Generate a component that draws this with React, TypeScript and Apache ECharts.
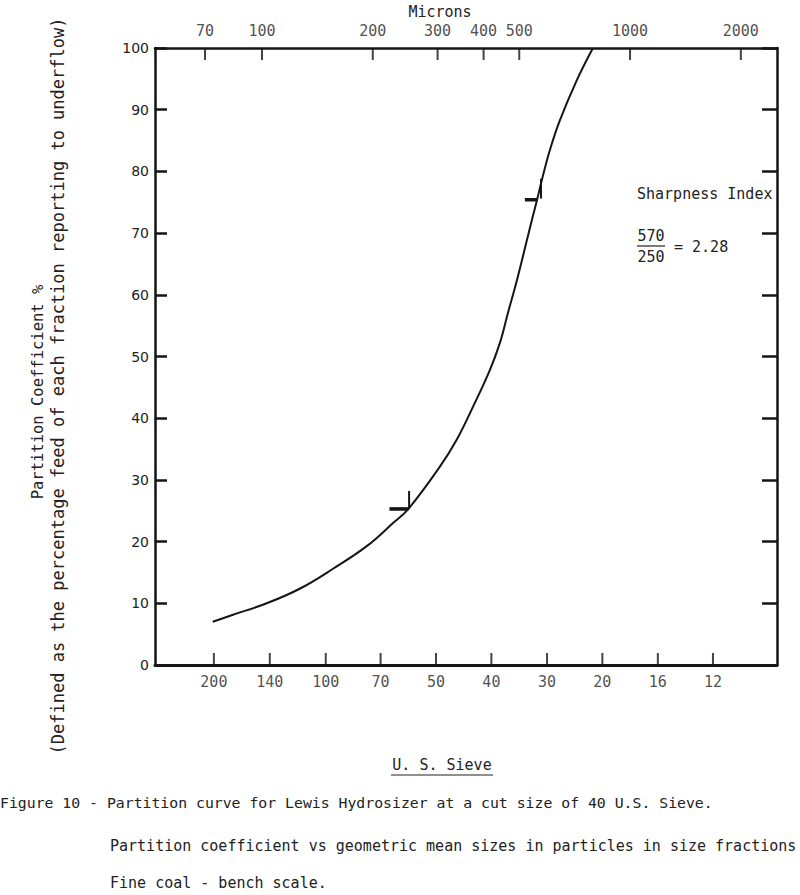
import React, { useEffect, useRef } from "react";
import * as echarts from "echarts";

// Partition curve (microns vs partition coefficient %)
const curveMicrons = [73.5, 83, 103, 127, 156, 193, 227, 250, 304, 338, 374, 416, 443, 466, 493, 541, 559, 576, 606, 645, 717, 793];
const curvePartition = [7.0, 8.1, 10.0, 12.4, 15.6, 19.3, 23.0, 25.3, 32.1, 36.5, 41.8, 47.8, 52.2, 57.1, 62.4, 72.1, 75.4, 78.6, 83.5, 88.3, 94.8, 100];

// Top axis (microns)
const micronTicks = [70, 100, 200, 300, 400, 500, 1000, 2000];
// Bottom axis (U.S. sieve) and equivalent opening in microns
const sieveLabels = ["200", "140", "100", "70", "50", "40", "30", "20", "16", "12"];
const sieveMicrons = [74, 105, 149, 210, 297, 420, 595, 841, 1190, 1680];

// d25 / d75 markers
const d25Dash = [[222, 25.3], [250, 25.3]];
const d25Tick = [[251, 25.3], [251, 28.2]];
const d75Dash = [[518, 75.4], [560, 75.4]];
const d75Tick = [[573, 75.6], [573, 78.8]];

const yTicks = [0, 10, 20, 30, 40, 50, 60, 70, 80, 90, 100];

const INK = "#151515";
const TXT = "#222";
const MONO = "'DejaVu Sans Mono', monospace";

export default function App() {
  const ref = useRef<HTMLDivElement>(null);
  useEffect(() => {
    document.body.style.margin = "0";
    const chart = echarts.init(ref.current!, null, { renderer: "svg" });
    const xCommon = {
      type: "log" as const,
      logBase: 10,
      min: 51.2,
      max: 2508,
      axisLabel: { show: false },
      axisTick: { show: false },
      splitLine: { show: false },
    };
    const t = (text: string, x: number, y: number, align = "left", size = 15, rotation = 0) => ({
      type: "text",
      x,
      y,
      rotation,
      style: { text, font: `${size}px ${MONO}`, fill: TXT, textAlign: align, textVerticalAlign: "middle" },
    });
    const option: any = {
      animation: false,
      backgroundColor: "#ffffff",
      grid: { left: 155, right: 23, top: 48, bottom: 230, containLabel: false },
      xAxis: [
        { ...xCommon, position: "bottom", axisLine: { show: true, onZero: false, lineStyle: { color: INK, width: 3 } } },
        { ...xCommon, position: "top", axisLine: { show: true, onZero: false, lineStyle: { color: INK, width: 2.5 } } },
      ],
      yAxis: [
        {
          type: "value",
          min: 0,
          max: 100,
          interval: 10,
          position: "left",
          axisLine: { show: true, lineStyle: { color: INK, width: 2.5 } },
          axisTick: { show: true, inside: true, length: 12, lineStyle: { color: INK, width: 2.5 } },
          axisLabel: { show: true, margin: 6, color: TXT, fontSize: 14, fontFamily: "'DejaVu Sans', sans-serif", customValues: yTicks },
          splitLine: { show: false },
        },
        {
          type: "value",
          min: 0,
          max: 100,
          interval: 10,
          position: "right",
          axisLine: { show: true, lineStyle: { color: INK, width: 2.5 } },
          axisTick: { show: true, inside: true, length: 15, lineStyle: { color: INK, width: 2.5 } },
          axisLabel: { show: false },
          splitLine: { show: false },
        },
      ],
      series: [
        {
          type: "line",
          xAxisIndex: 0,
          yAxisIndex: 0,
          data: curveMicrons.map((m, i) => [m, curvePartition[i]]),
          smooth: 0.4,
          showSymbol: false,
          lineStyle: { color: INK, width: 2 },
          clip: false,
        },
        ...[d25Dash, d75Dash].map((d) => ({
          type: "line",
          xAxisIndex: 0,
          yAxisIndex: 0,
          data: d,
          showSymbol: false,
          lineStyle: { color: INK, width: 3.5 },
        })),
        ...[d25Tick, d75Tick].map((d) => ({
          type: "line",
          xAxisIndex: 0,
          yAxisIndex: 0,
          data: d,
          showSymbol: false,
          lineStyle: { color: INK, width: 2 },
        })),
        {
          type: "scatter",
          xAxisIndex: 0,
          yAxisIndex: 0,
          clip: false,
          symbol: "rect",
          symbolSize: [2, 12],
          symbolOffset: [0, -6],
          itemStyle: { color: INK },
          data: sieveMicrons.map((m, i) => ({ value: [m, 0], name: sieveLabels[i] })),
          label: {
            show: true,
            position: "bottom",
            distance: 9,
            formatter: "{b}",
            color: TXT,
            fontSize: 15,
            fontFamily: MONO,
          },
        },
        {
          type: "scatter",
          xAxisIndex: 1,
          yAxisIndex: 0,
          clip: false,
          symbol: "rect",
          symbolSize: [2, 12],
          symbolOffset: [0, 6],
          itemStyle: { color: INK },
          data: micronTicks.map((m) => ({ value: [m, 100], name: String(m) })),
          label: {
            show: true,
            position: "top",
            distance: 10,
            formatter: "{b}",
            color: TXT,
            fontSize: 15,
            fontFamily: MONO,
          },
        },
      ],
      graphic: [
        t("Microns", 440, 12, "center"),
        t("Partition Coefficient %", 38, 392, "center", 15.5, Math.PI / 2),
        t("(Defined as the percentage feed of each fraction reporting to underflow)", 58, 386, "center", 17, Math.PI / 2),
        t("U. S. Sieve", 442, 765, "center"),
        { type: "line", shape: { x1: 391, y1: 775, x2: 493, y2: 775 }, style: { stroke: TXT, lineWidth: 1.2 } },
        t("Sharpness Index", 637, 194),
        t("570", 651, 236, "center"),
        { type: "line", shape: { x1: 637, y1: 246, x2: 665, y2: 246 }, style: { stroke: TXT, lineWidth: 1.2 } },
        t("250", 651, 257, "center"),
        t("= 2.28", 674, 247),
        t("Figure 10 - Partition curve for Lewis Hydrosizer at a cut size of 40 U.S. Sieve.", 0, 802, "left", 14.8),
        t("Partition coefficient vs geometric mean sizes in particles in size fractions", 110, 846),
        t("Fine coal - bench scale.", 110, 883),
      ],
    };
    chart.setOption(option);
    return () => chart.dispose();
  }, []);
  return <div ref={ref} style={{ position: "absolute", left: 0, top: 0, width: 800, height: 895 }} />;
}
